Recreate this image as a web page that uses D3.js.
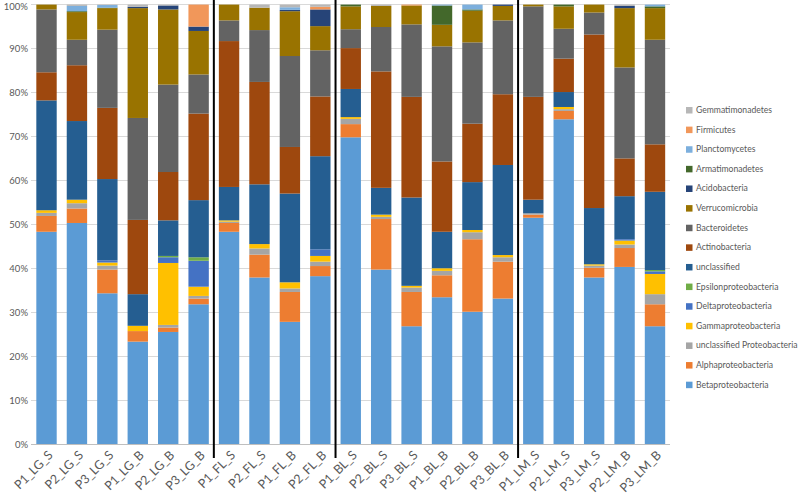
<!DOCTYPE html>
<html><head><meta charset="utf-8">
<script src="https://cdn.jsdelivr.net/npm/d3@7"></script>
<style>body{margin:0;background:#fff}svg{display:block;font-family:Lato,"Liberation Sans",sans-serif}</style>
</head><body><svg id="c" width="798" height="495"></svg>
<script>
const categories = ["P1_LG_S","P2_LG_S","P3_LG_S","P1_LG_B","P2_LG_B","P3_LG_B","P1_FL_S","P2_FL_S","P1_FL_B","P2_FL_B","P1_BL_S","P2_BL_S","P3_BL_S","P1_BL_B","P2_BL_B","P3_BL_B","P1_LM_S","P2_LM_S","P3_LM_S","P2_LM_B","P3_LM_B"];
const groupBreaks = ["P1_FL_S","P1_BL_S","P1_LM_S"];
const seriesNames = ["Betaproteobacteria","Alphaproteobacteria","unclassified Proteobacteria","Gammaproteobacteria","Deltaproteobacteria","Epsilonproteobacteria","unclassified","Actinobacteria","Bacteroidetes","Verrucomicrobia","Acidobacteria","Armatimonadetes","Planctomycetes","Firmicutes","Gemmatimonadetes"];
const seriesColors = ["#5B9BD5","#ED7D31","#A5A5A5","#FFC000","#4472C4","#70AD47","#255E91","#9E480E","#636363","#997300","#264478","#43682B","#7CAFDD","#F1975A","#B7B7B7"];
const beta     = [48.3,50.3,34.3,23.3,25.5,31.8,48.3,37.9,27.8,38.2,69.8,39.7,26.8,33.4,30.1,33.1,51.5,73.9,37.9,40.3,26.8];
const alpha    = [3.6,3.3,5.4,2.4,1.0,1.3,2.0,5.2,6.8,2.3,3.0,11.5,7.8,5.0,16.5,8.4,0.7,1.9,2.2,4.3,5.0];
const unclProt = [0.7,1.2,0.9,0,0.6,0.6,0.3,1.4,0.8,1.0,1.2,0.5,1.0,1.0,1.6,1.0,0.3,0.4,0.5,0.8,2.3];
const gamma    = [0.6,0.8,0.7,1.2,14.1,2.1,0.3,1.0,1.4,1.3,0.4,0.5,0.4,0.6,0.5,0.5,0,0.5,0.3,0.9,4.6];
const delta    = [0,0,0.5,0,1.3,5.9,0,0,0,1.5,0,0,0,0,0,0,0,0,0,0.3,0.6];
const epsilon  = [0,0,0,0,0.3,0.8,0,0,0,0,0,0,0,0,0,0,0,0,0,0,0.3];
const unclassified = [25.0,17.9,18.5,7.2,8.1,13.0,7.6,13.6,20.2,21.2,6.4,6.1,20.1,8.3,10.9,20.5,3.1,3.4,12.8,9.8,17.8];
const actino   = [6.4,12.7,16.2,16.9,11.0,19.7,33.2,23.3,10.6,13.6,9.3,26.5,22.9,16.0,13.3,16.1,23.4,7.6,39.5,8.6,10.8];
const bactero  = [14.3,5.8,17.8,23.2,19.9,8.9,4.7,11.8,20.7,10.5,4.3,10.1,16.5,26.2,18.5,16.8,20.6,6.8,5.0,20.7,23.8];
const verruco  = [1.1,6.3,4.9,25.0,17.1,9.9,3.6,5.1,10.2,5.5,5.2,4.8,4.3,4.9,7.2,3.3,0.4,5.1,1.8,13.5,7.2];
const acido    = [0,0,0,0.3,0.9,1.0,0,0,0.3,3.8,0,0,0,0,0,0.3,0,0,0,0.5,0];
const armat    = [0,0.2,0.1,0,0,0,0,0,0,0,0.4,0,0,4.4,0.3,0,0,0.4,0,0,0.4];
const plancto  = [0,1.2,0.6,0,0,0,0,0,0.6,0,0,0,0,0.2,1.1,0,0,0,0,0,0.4];
const firmi    = [0,0,0,0,0,5.0,0,0,0,0.6,0,0,0.2,0,0,0,0,0,0,0,0];
const gemma    = [0,0.3,0.1,0.5,0.2,0,0,0.7,0.6,0.5,0,0.3,0,0,0,0,0,0,0,0.3,0];
const yTicks = [0,10,20,30,40,50,60,70,80,90,100];

const seriesValues = [beta,alpha,unclProt,gamma,delta,epsilon,unclassified,actino,bactero,verruco,acido,armat,plancto,firmi,gemma];
const rows = categories.map((c,i)=>{
  const r={cat:c}; let tot=0;
  seriesNames.forEach((s,k)=>{tot+=seriesValues[k][i];});
  seriesNames.forEach((s,k)=>{r[s]=seriesValues[k][i]/tot*100;});
  return r;
});
const stack = d3.stack().keys(seriesNames)(rows);

const svg = d3.select("#c");
const x = d3.scaleBand().domain(categories).range([31.3,670.2]).paddingInner(0.33).paddingOuter(0.165);
const y = d3.scaleLinear().domain([0,100]).range([444,4.6]);
const color = d3.scaleOrdinal().domain(seriesNames).range(seriesColors);
const FONT = "Lato,'Liberation Sans',sans-serif";

// gridlines
svg.append("g").selectAll("line").data(yTicks).join("line")
  .attr("x1",31.3).attr("x2",670.2).attr("y1",d=>y(d)).attr("y2",d=>y(d))
  .attr("stroke",d=>d===0?"#BFBFBF":"#D9D9D9").attr("stroke-width",1).attr("shape-rendering","crispEdges");

// y axis labels
const yAxis = svg.append("g").attr("transform","translate(31,0)")
  .call(d3.axisLeft(y).tickValues(yTicks).tickFormat(d=>d+"%").tickSize(0).tickPadding(3));
yAxis.select(".domain").remove();
yAxis.selectAll("text").attr("font-size",9.5).attr("fill","#595959").style("font-family",FONT)
  .attr("dy",d=>d===100?"0.5em":"0.32em");

// bars
svg.append("g").selectAll("g").data(stack).join("g").attr("fill",d=>color(d.key))
  .selectAll("rect").data(d=>d).join("rect")
  .attr("x",d=>x(d.data.cat)).attr("width",x.bandwidth())
  .attr("y",d=>y(d[1])).attr("height",d=>Math.max(0,y(d[0])-y(d[1])));

// separators
const step = x.step(), gap = step - x.bandwidth();
svg.append("g").selectAll("line").data(groupBreaks).join("line")
  .attr("x1",d=>x(d)-gap/2).attr("x2",d=>x(d)-gap/2)
  .attr("y1",0).attr("y2",458).attr("stroke","#000").attr("stroke-width",2);

// x labels
const xAxis = svg.append("g").attr("transform","translate(0,444)")
  .call(d3.axisBottom(x).tickSize(0).tickPadding(0));
xAxis.select(".domain").remove();
xAxis.selectAll("text")
  .attr("font-size",12.5).attr("fill","#595959").attr("text-anchor","end")
  .attr("dy",0).attr("y",0)
  .attr("transform","translate(7,12) rotate(-45)")
  .style("font-family",FONT);

// legend
const legOrder = seriesNames.slice().reverse();
const leg = svg.append("g").selectAll("g").data(legOrder).join("g")
  .attr("transform",(d,i)=>`translate(686,${110+i*19.62})`);
leg.append("rect").attr("x",0).attr("y",-3).attr("width",6.5).attr("height",6.5).attr("fill",d=>color(d));
leg.append("text").attr("x",10).attr("y",0).attr("dy","0.35em").attr("font-size",8.6)
  .attr("fill","#595959").style("font-family",FONT).text(d=>d);
</script></body></html>
